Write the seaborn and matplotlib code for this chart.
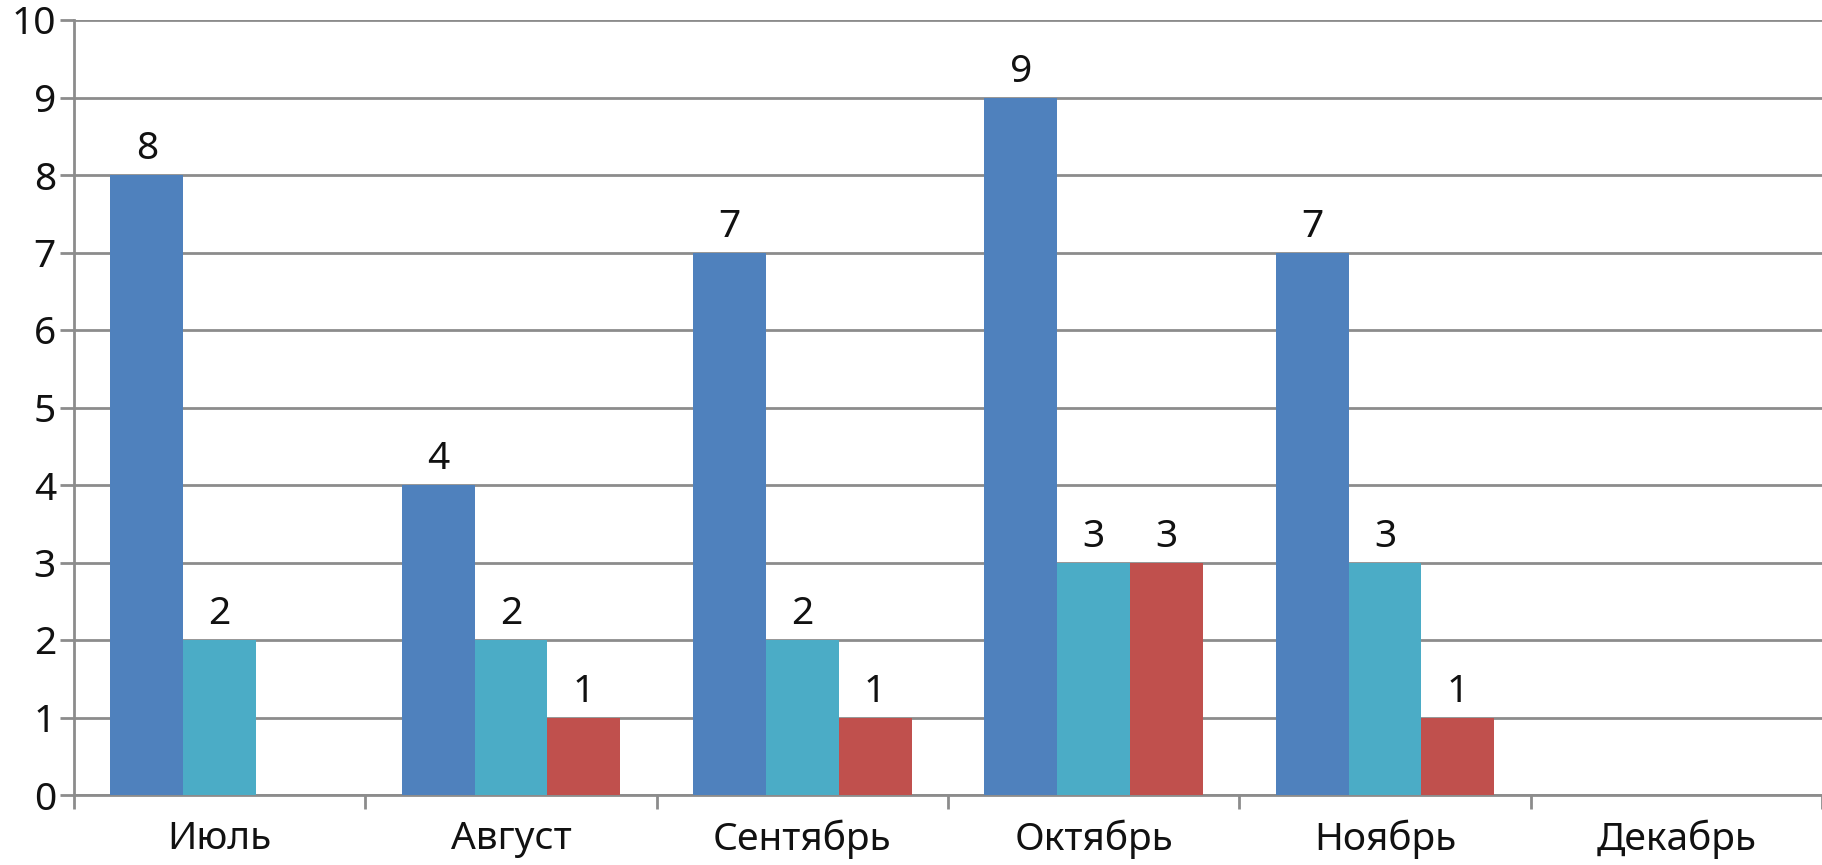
import numpy as np
import pandas as pd
import matplotlib
matplotlib.use("Agg")
import matplotlib.pyplot as plt
import seaborn as sns

# Data
months = ["Июль", "Август", "Сентябрь", "Октябрь", "Ноябрь", "Декабрь"]
series_names = ["Ряд 1", "Ряд 2", "Ряд 3"]
blue_vals = [8, 4, 7, 9, 7, np.nan]
teal_vals = [2, 2, 2, 3, 3, np.nan]
red_vals = [np.nan, 1, 1, 3, 1, np.nan]
colors = ["#4F81BD", "#4BACC6", "#C0504D"]

df = pd.DataFrame({
    "month": months * 3,
    "series": [s for s in series_names for _ in months],
    "value": blue_vals + teal_vals + red_vals,
})

sns.set_theme(style="white")
plt.rcParams["font.family"] = ["Noto Sans", "DejaVu Sans"]

fig = plt.figure(figsize=(18.22, 8.65), dpi=100)
ax = fig.add_axes([74 / 1822, 1 - 795 / 865, 1 - 74 / 1822, (795 - 20) / 865])

sns.barplot(data=df, x="month", y="value", hue="series", order=months,
            hue_order=series_names, palette=colors, width=0.75,
            saturation=1, edgecolor="none", linewidth=0, legend=False, ax=ax,
            zorder=3)

for cont in ax.containers:
    ax.bar_label(cont, fmt="%g", padding=5, fontsize=28, color="#111111")

ax.set_ylim(0, 10)
ax.set_yticks(range(0, 11))
ax.set_xlim(-0.5, 5.47)
ax.yaxis.grid(True, color="#8c8c8c", linewidth=2, zorder=0)
ax.set_axisbelow(True)

ax.set_xlabel("")
ax.set_ylabel("")
ax.set_xticks(range(len(months)))
ax.set_xticklabels(months)
ax.set_xticks(np.arange(-0.5, 6, 1), minor=True)
ax.tick_params(axis="x", which="major", length=0, pad=18, labelsize=28,
               labelcolor="#111111")
ax.tick_params(axis="x", which="minor", length=10, width=2, color="#8c8c8c",
               direction="out", bottom=True)
ax.tick_params(axis="y", length=10, width=2, color="#8c8c8c", direction="out",
               left=True, pad=3, labelsize=28, labelcolor="#111111")

for side in ["top", "right"]:
    ax.spines[side].set_visible(False)
for side in ["left", "bottom"]:
    ax.spines[side].set_color("#8c8c8c")
    ax.spines[side].set_linewidth(2)

fig.savefig("out.png", dpi=100)
